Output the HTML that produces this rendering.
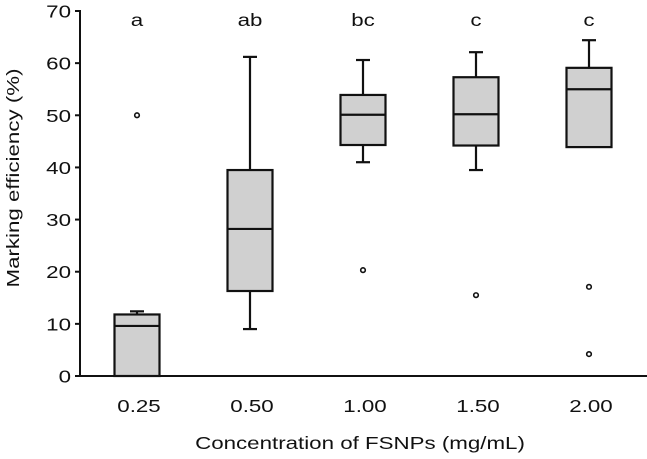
<!DOCTYPE html>
<html><head><meta charset="utf-8"><style>
body{margin:0;background:#fff}
svg{display:block;font-family:"Liberation Sans",Arial,sans-serif}
</style></head><body>
<svg id="chart" width="647" height="459" viewBox="0 0 647 459"></svg>
<script>
const categories=["0.25","0.50","1.00","1.50","2.00"];
const letters=["a","ab","bc","c","c"];
const whiskerLow=[0,9,41.0,39.5,43.9];
const q1=[0,16.3,44.3,44.2,43.9];
const medians=[9.6,28.2,50.1,50.2,55.0];
const q3=[11.8,39.5,53.9,57.3,59.1];
const whiskerHigh=[12.4,61.2,60.6,62.1,64.4];
const outliers=[[50],[],[20.3],[15.5],[17.1,4.2]];
const yTicks=[0,10,20,30,40,50,60,70];

const svg=document.getElementById('chart');
const NS="http://www.w3.org/2000/svg";
const y0=376,yTop=11,xAxis=80;
const SX=1.24;
const yScale=v=>y0-(v/70)*(y0-yTop);
const xScale=i=>137+i*113;
const bw=45;
function mk(t,a,parent){const e=document.createElementNS(NS,t);for(const k in a)e.setAttribute(k,a[k]);(parent||svg).appendChild(e);return e;}
function txt(x,y,anchor,size,rot){
  const tr='translate('+x+','+y+')'+(rot?' rotate(-90)':'')+' scale('+SX+',1)';
  return mk('text',{x:0,y:0,'text-anchor':anchor,'font-size':size,fill:'#111',transform:tr});
}

let ax=mk('line',{x1:xAxis,y1:yTop-1,x2:xAxis,y2:y0+1,stroke:'#111','stroke-width':2});


let bx=mk('line',{x1:xAxis,y1:y0,x2:647,y2:y0,stroke:'#111','stroke-width':2});



yTicks.forEach(v=>{
  const y=yScale(v);
  const tk=mk('line',{x1:xAxis-5,y1:y,x2:xAxis,y2:y,stroke:'#111','stroke-width':2});
  
  
  const t=txt(xAxis-9,y+6.5,'end',18);
  t.textContent=v;
  
  
});

categories.forEach((c,i)=>{
  const cx=xScale(i);
  const g=mk('g',{});
  
  
  const st={stroke:'#111','stroke-width':2.2};
  if(whiskerHigh[i]>q3[i]){
    mk('line',Object.assign({x1:cx,y1:yScale(q3[i]),x2:cx,y2:yScale(whiskerHigh[i])},st),g);
    mk('line',Object.assign({x1:cx-7,y1:yScale(whiskerHigh[i]),x2:cx+7,y2:yScale(whiskerHigh[i])},st),g);
  }
  if(whiskerLow[i]<q1[i]){
    mk('line',Object.assign({x1:cx,y1:yScale(q1[i]),x2:cx,y2:yScale(whiskerLow[i])},st),g);
    mk('line',Object.assign({x1:cx-7,y1:yScale(whiskerLow[i]),x2:cx+7,y2:yScale(whiskerLow[i])},st),g);
  }
  mk('rect',Object.assign({x:cx-bw/2,y:yScale(q3[i]),width:bw,height:yScale(q1[i])-yScale(q3[i]),fill:'#d0d0d0'},st),g);
  mk('line',Object.assign({x1:cx-bw/2,y1:yScale(medians[i]),x2:cx+bw/2,y2:yScale(medians[i])},st),g);
  outliers[i].forEach(v=>{
    const o=mk('circle',{cx:cx,cy:yScale(v),r:2.3,fill:'#fff',stroke:'#111','stroke-width':1.6});
    
    
  });
  const l=txt(cx,26,'middle',18);
  l.textContent=letters[i];
  
  
  const xl=txt(cx+2,412,'middle',18);
  xl.textContent=c;
  
  
});

const xt=txt(360,449,'middle',18);
xt.textContent="Concentration of FSNPs (mg/mL)";


const yt=txt(19,178,'middle',18,true);
yt.textContent="Marking efficiency (%)";


</script>
</body></html>
